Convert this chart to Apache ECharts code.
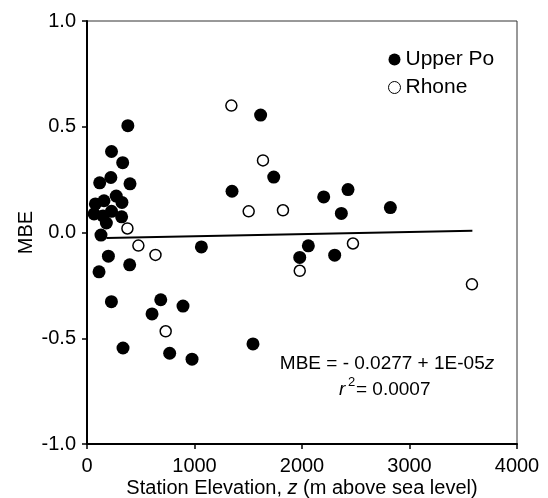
<!DOCTYPE html>
<html>
<head>
<meta charset="utf-8">
<script src="https://cdn.jsdelivr.net/npm/echarts@6/dist/echarts.min.js"></script>
<style>
html,body{margin:0;padding:0;background:#fff;}
#c{width:548px;height:498px;}
</style>
</head>
<body>
<div id="c"></div>
<script>
// Upper Po stations (filled): elevation (m) and MBE
const upperPoX = [380, 228, 332, 118, 222, 400, 272, 325, 158, 78, 66, 228, 322, 148, 180, 130, 199, 397, 112, 227, 335, 605, 686, 893, 769, 977, 1064, 1349, 1615, 1737, 1544, 2202, 2428, 2366, 2822, 2059, 1979, 2304];
const upperPoY = [0.505, 0.383, 0.330, 0.235, 0.260, 0.230, 0.172, 0.142, 0.150, 0.135, 0.088, 0.100, 0.074, 0.078, 0.045, -0.012, -0.112, -0.153, -0.186, -0.327, -0.546, -0.385, -0.318, -0.348, -0.571, -0.599, -0.068, 0.195, 0.555, 0.262, -0.527, 0.168, 0.203, 0.090, 0.118, -0.063, -0.118, -0.107];
// Rhone stations (open)
const rhoneX = [376, 478, 637, 732, 1343, 1637, 1504, 1823, 2474, 1979, 3581];
const rhoneY = [0.019, -0.062, -0.106, -0.467, 0.600, 0.341, 0.100, 0.105, -0.052, -0.181, -0.245];
// Regression line endpoints
const fitX = [180, 3585];
const fitY = [-0.026, 0.008];
// Axis ticks
const xTicks = [0, 1000, 2000, 3000, 4000];
const yTicks = [-1.0, -0.5, 0.0, 0.5, 1.0];

const zip = (a, b) => a.map((v, i) => [v, b[i]]);
const FONT = '"Liberation Sans", Arial, Helvetica, sans-serif';

const chart = echarts.init(document.getElementById('c'), null, {renderer: 'canvas'});
chart.setOption({
  animation: false,
  backgroundColor: '#fff',
  textStyle: {fontFamily: FONT, color: '#000'},
  grid: {left: 87, right: 31, top: 21, bottom: 54, containLabel: false, outerBoundsMode: 'none',
         show: true, borderColor: '#333', borderWidth: 1, backgroundColor: 'transparent'},
  legend: {
    orient: 'vertical', left: 383, top: 44, itemGap: 7, itemWidth: 12, itemHeight: 12,
    textStyle: {fontSize: 21, fontFamily: FONT, color: '#000'},
    data: [
      {name: 'Upper Po', icon: 'circle'},
      {name: 'Rhone', icon: 'circle', itemStyle: {color: '#fff', borderColor: '#000', borderWidth: 1}}
    ]
  },
  xAxis: {
    type: 'value', min: xTicks[0], max: xTicks[xTicks.length - 1], interval: 1000,
    name: 'Station Elevation, {i|z} (m above sea level)',
    nameLocation: 'middle', nameGap: 34, nameMoveOverlap: false,
    nameTextStyle: {fontSize: 20, fontFamily: FONT, color: '#000', rich: {i: {fontSize: 20, fontStyle: 'italic', fontFamily: FONT, color: '#000'}}},
    axisLine: {show: true, onZero: false, lineStyle: {color: '#000', width: 2}},
    axisTick: {show: true, inside: false, length: 5, lineStyle: {color: '#000', width: 1.5}},
    axisLabel: {fontSize: 20, color: '#000', fontFamily: FONT, margin: 12, formatter: v => String(v)},
    splitLine: {show: false}
  },
  yAxis: {
    type: 'value', min: yTicks[0], max: yTicks[yTicks.length - 1], interval: 0.5,
    name: 'MBE', nameLocation: 'middle', nameGap: 51, nameMoveOverlap: false,
    nameTextStyle: {fontSize: 20, fontFamily: FONT, color: '#000'},
    axisLine: {show: true, onZero: false, lineStyle: {color: '#000', width: 2}},
    axisTick: {show: true, inside: false, length: 5, lineStyle: {color: '#000', width: 1.5}},
    axisLabel: {fontSize: 20, color: '#000', fontFamily: FONT, margin: 11, formatter: v => v.toFixed(1)},
    splitLine: {show: false}
  },
  series: [
    {
      name: 'fit', type: 'line', data: zip(fitX, fitY), symbol: 'none', z: 1,
      lineStyle: {color: '#000', width: 2}
    },
    {
      name: 'Upper Po', type: 'scatter', data: zip(upperPoX, upperPoY), symbol: 'circle', symbolSize: 13, z: 2,
      itemStyle: {color: '#000', borderColor: '#000', borderWidth: 0, opacity: 1}
    },
    {
      name: 'Rhone', type: 'scatter', data: zip(rhoneX, rhoneY), symbol: 'circle', symbolSize: 11, z: 3,
      itemStyle: {color: '#fff', borderColor: '#000', borderWidth: 1.5, opacity: 1}
    }
  ],
  graphic: [
    {
      type: 'text', z: 10,
      style: {
        x: 387, y: 364, align: 'center', verticalAlign: 'middle',
        text: 'MBE = - 0.0277 + 1E-05{i|z}',
        font: '19px ' + FONT, fill: '#000',
        rich: {i: {fontStyle: 'italic', fontSize: 19, fontFamily: FONT, fill: '#000'}}
      }
    },
    {
      type: 'text', z: 10,
      style: {x: 339, y: 390, align: 'left', verticalAlign: 'middle', text: 'r', font: 'italic 19px ' + FONT, fill: '#000'}
    },
    {
      type: 'text', z: 10,
      style: {x: 348, y: 382, align: 'left', verticalAlign: 'middle', text: '2', font: '13px ' + FONT, fill: '#000'}
    },
    {
      type: 'text', z: 10,
      style: {x: 356, y: 390, align: 'left', verticalAlign: 'middle', text: '= 0.0007', font: '19px ' + FONT, fill: '#000'}
    }
  ]
});
</script>
</body>
</html>
